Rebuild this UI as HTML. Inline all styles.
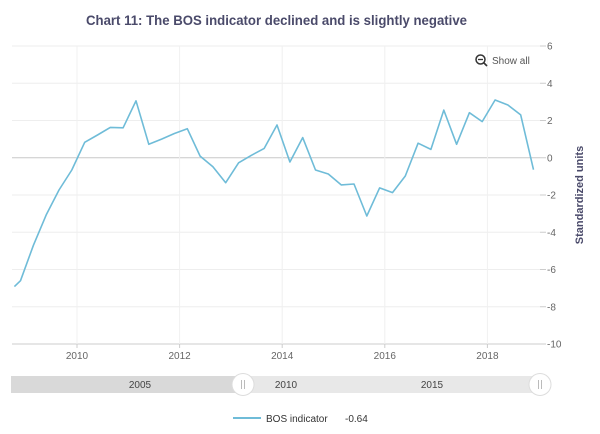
<!DOCTYPE html>
<html><head><meta charset="utf-8"><style>
body{margin:0;background:#fff;}
svg{display:block;font-family:"Liberation Sans",sans-serif;}
</style></head><body>
<svg id="chart" width="600" height="434" viewBox="0 0 600 434">
<text x="276.5" y="25" text-anchor="middle" font-size="14" font-weight="bold" fill="#4a4a6a" textLength="381" lengthAdjust="spacingAndGlyphs">Chart 11: The BOS indicator declined and is slightly negative</text>
<g id="grid"></g>
<g id="axes"></g>
<g id="series"></g>
<g>
<circle cx="480.5" cy="59.5" r="4.5" fill="none" stroke="#333" stroke-width="1.5"/>
<line x1="484" y1="63" x2="487" y2="66" stroke="#333" stroke-width="1.6"/>
<line x1="478" y1="59.5" x2="483" y2="59.5" stroke="#333" stroke-width="1.3"/>
<text x="492" y="64" font-size="10" fill="#555">Show all</text>
</g>
<text transform="translate(583,195) rotate(-90)" text-anchor="middle" font-size="11" font-weight="bold" fill="#4a4a6a">Standardized units</text>
<g>
<rect x="11" y="376" width="529" height="17" fill="#e8e8e8"/>
<rect x="11" y="376" width="232" height="17" fill="#d9d9d9"/>
<text x="140" y="388" text-anchor="middle" font-size="10" fill="#444">2005</text>
<text x="286" y="388" text-anchor="middle" font-size="10" fill="#444">2010</text>
<text x="432" y="388" text-anchor="middle" font-size="10" fill="#444">2015</text>
<g><circle cx="243" cy="384.5" r="11" fill="#fff" stroke="#ddd"/><line x1="241.5" y1="380" x2="241.5" y2="389" stroke="#bbb"/><line x1="244.5" y1="380" x2="244.5" y2="389" stroke="#bbb"/></g>
<g><circle cx="540" cy="384.5" r="11" fill="#fff" stroke="#ddd"/><line x1="538.5" y1="380" x2="538.5" y2="389" stroke="#bbb"/><line x1="541.5" y1="380" x2="541.5" y2="389" stroke="#bbb"/></g>
</g>
<g>
<line x1="233" y1="418" x2="261" y2="418" stroke="#6fbcd8" stroke-width="2"/>
<text x="266" y="422" font-size="10" fill="#333">BOS indicator</text>
<text x="345" y="422" font-size="10" fill="#333">-0.64</text>
</g>
</svg>
<script>
const dates=[2008.75,2008.87,2009.12,2009.37,2009.62,2009.87,2010.12,2010.37,2010.62,2010.87,2011.12,2011.37,2011.62,2011.87,2012.12,2012.37,2012.62,2012.87,2013.12,2013.37,2013.62,2013.87,2014.12,2014.37,2014.62,2014.87,2015.12,2015.37,2015.62,2015.87,2016.12,2016.37,2016.62,2016.87,2017.12,2017.37,2017.62,2017.87,2018.12,2018.37,2018.62,2018.87];
const values=[-6.92,-6.6,-4.7,-3.07,-1.73,-0.66,0.83,1.22,1.63,1.61,3.06,0.72,1.0,1.3,1.56,0.09,-0.48,-1.34,-0.27,0.13,0.5,1.76,-0.23,1.08,-0.66,-0.87,-1.46,-1.41,-3.13,-1.62,-1.87,-0.98,0.78,0.45,2.56,0.72,2.42,1.94,3.1,2.83,2.3,-0.64];
const yTicks=[6,4,2,0,-2,-4,-6,-8,-10];
const xTicks=[2010,2012,2014,2016,2018];
const NS='http://www.w3.org/2000/svg';
const X0=12,X1=540,Y6=46,Ym10=344;
function xs(d){return 77+(d-2010)*51.3;}
function ys(v){return Y6+(6-v)*(Ym10-Y6)/16;}
function mk(tag,attrs,parent){const e=document.createElementNS(NS,tag);for(const k in attrs)e.setAttribute(k,attrs[k]);parent.appendChild(e);return e;}
const grid=document.getElementById('grid'),axes=document.getElementById('axes'),series=document.getElementById('series');
yTicks.forEach(t=>{
 const l=mk('line',{x1:X0,x2:X1,y1:ys(t),y2:ys(t),stroke:t===0?'#c8c8c8':(t===-10?'#ccc':'#eeeeee'),'stroke-width':1},grid);
 
 
 const tk=mk('line',{x1:X1,x2:X1+6,y1:ys(t),y2:ys(t),stroke:'#ccc'},axes);
 
 
 const tx=mk('text',{x:X1+7,y:ys(t)+3.5,'font-size':10,fill:'#666'},axes);
 tx.textContent=t;
 
 
});
xTicks.forEach(t=>{
 const l=mk('line',{x1:xs(t),x2:xs(t),y1:Y6,y2:Ym10,stroke:'#f0f0f0'},grid);
 
 
 const tk=mk('line',{x1:xs(t),x2:xs(t),y1:Ym10,y2:Ym10+4,stroke:'#ccc'},axes);
 
 
 const tx=mk('text',{x:xs(t),y:Ym10+15,'font-size':10,fill:'#666','text-anchor':'middle'},axes);
 tx.textContent=t;
 
 
});
function xl(d){return xs(d)+1.5;}
const pts=dates.map((d,i)=>Math.max(xl(d),X0).toFixed(1)+','+ys(values[i]).toFixed(1)).join(' ');
const pl=mk('polyline',{points:pts,fill:'none',stroke:'#6fbcd8','stroke-width':1.6,'stroke-linejoin':'round'},series);


</script>
</body></html>
